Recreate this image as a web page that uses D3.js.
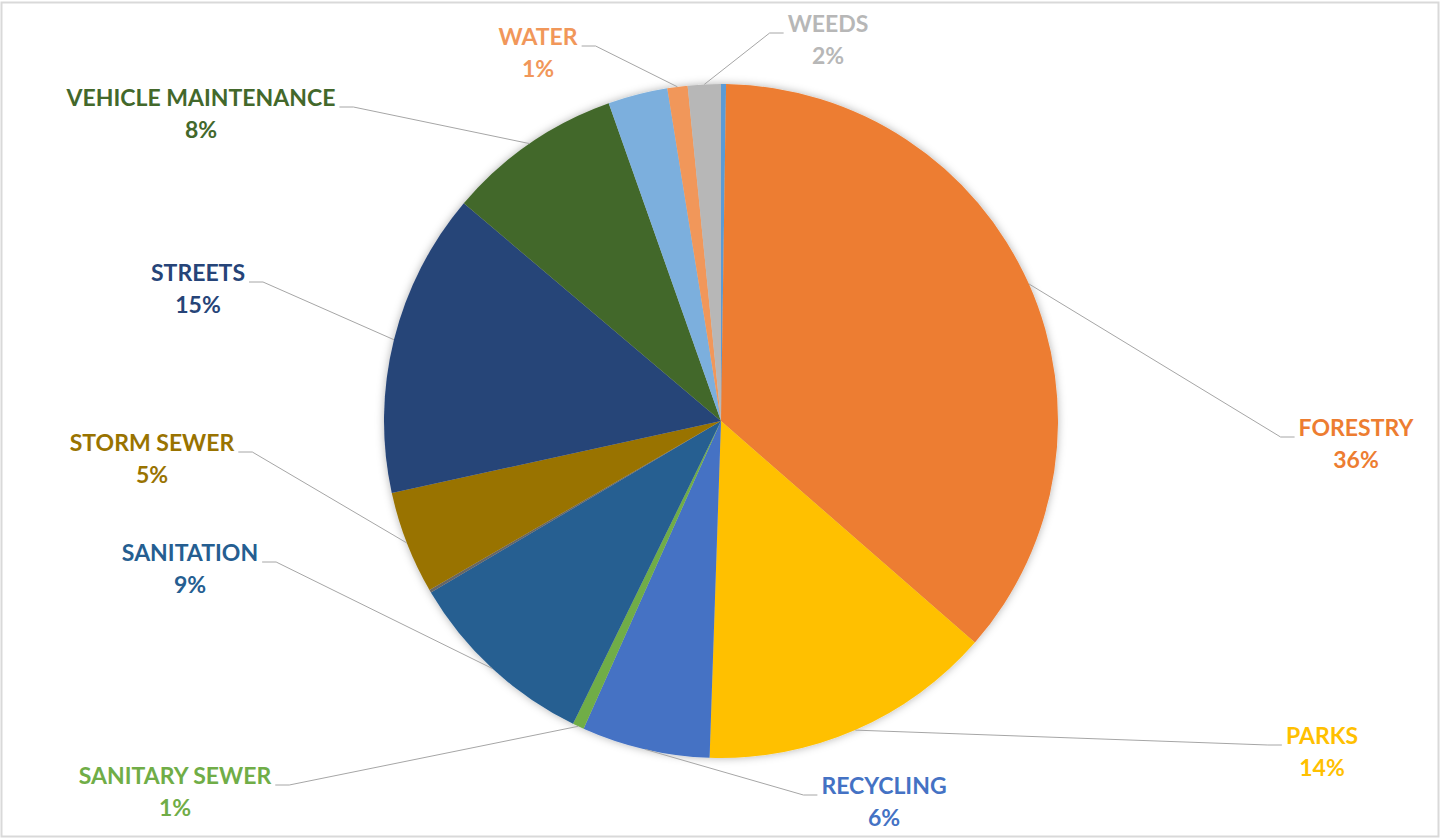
<!DOCTYPE html>
<html>
<head>
<meta charset="utf-8">
<script src="https://cdn.jsdelivr.net/npm/d3@7"></script>
<style>
  html, body { margin: 0; padding: 0; background: #fff; }
  svg { display: block; }
  text { font-family: Lato, "Open Sans", sans-serif; font-weight: 700; }
</style>
</head>
<body>
<svg id="chart" width="1442" height="840"></svg>
<script>
// ---- data (clockwise from 12 o'clock) ----
const categories = ["", "FORESTRY", "PARKS", "RECYCLING", "SANITARY SEWER", "SANITATION", "",
                    "STORM SEWER", "STREETS", "VEHICLE MAINTENANCE", "", "WATER", "WEEDS"];
const values     = [0.24, 36.21, 14.13, 6.15, 0.55, 9.28, 0.13,
                    4.94, 14.62, 8.42, 2.86, 0.97, 1.58];
const colors     = ["#5B9BD5", "#ED7D31", "#FFC000", "#4472C4", "#70AD47", "#255E91", "#666666",
                    "#997300", "#264478", "#43682B", "#7CAFDD", "#F1975A", "#B7B7B7"];

// ---- label layout (position of each data label; style, not data) ----
const labelLayout = {
  "FORESTRY":            { cx: 1356, by: 436, side: "left"  },
  "PARKS":               { cx: 1322, by: 744, side: "left"  },
  "RECYCLING":           { cx: 884,  by: 794, side: "left"  },
  "SANITARY SEWER":      { cx: 175,  by: 784, side: "right" },
  "SANITATION":          { cx: 190,  by: 561, side: "right" },
  "STORM SEWER":         { cx: 152,  by: 451, side: "right" },
  "STREETS":             { cx: 198,  by: 281, side: "right" },
  "VEHICLE MAINTENANCE": { cx: 201,  by: 106, side: "right" },
  "WATER":               { cx: 538,  by: 45,  side: "right" },
  "WEEDS":               { cx: 828,  by: 32,  side: "left"  }
};

const W = 1442, H = 840;
const cx = 721, cy = 421, R = 337;
const fontSize = 23, lineGap = 32;

const svg = d3.select("#chart");

// chart border
svg.append("rect")
  .attr("x", 1.5).attr("y", 2.5).attr("width", 1437).attr("height", 834)
  .attr("fill", "#fff").attr("stroke", "#d9d9d9").attr("stroke-width", 2);

const defs = svg.append("defs");
const f = defs.append("filter").attr("id", "glow")
  .attr("x", "-10%").attr("y", "-10%").attr("width", "120%").attr("height", "120%");
f.append("feDropShadow").attr("dx", 0).attr("dy", 0).attr("stdDeviation", 4)
  .attr("flood-color", "#000").attr("flood-opacity", 0.3);

const data = categories.map((c, i) => ({ name: c, value: values[i], color: colors[i] }));
const total = d3.sum(values);
const pct = d3.format(".0%");

const pie = d3.pie().value(d => d.value).sort(null).startAngle(0).endAngle(2 * Math.PI);
const arcs = pie(data);
const arc = d3.arc().innerRadius(0).outerRadius(R);

const g = svg.append("g").attr("transform", `translate(${cx},${cy})`);
const pieG = g.append("g").attr("filter", "url(#glow)");
pieG.selectAll("path").data(arcs).join("path")
  .attr("d", arc)
  .attr("fill", d => d.data.color);

// labels + leader lines
const labG = svg.append("g");
const lineG = svg.append("g");
arcs.forEach(a => {
  const name = a.data.name;
  if (!name || !labelLayout[name]) return;
  const L = labelLayout[name];
  const t = labG.append("text")
    .attr("x", L.cx).attr("y", L.by)
    .attr("text-anchor", "middle")
    .attr("font-size", fontSize)
    .attr("fill", a.data.color)
    .text(name);
  labG.append("text")
    .attr("x", L.cx).attr("y", L.by + lineGap)
    .attr("text-anchor", "middle")
    .attr("font-size", fontSize)
    .attr("fill", a.data.color)
    .text(pct(a.data.value / total));
  const w = t.node().getComputedTextLength();
  const mid = (a.startAngle + a.endAngle) / 2;
  const sx = cx + R * Math.sin(mid), sy = cy - R * Math.cos(mid);
  const ly = L.by + 1;
  let ex, elx;
  if (L.side === "left") { ex = L.cx - w / 2 - 4; elx = ex - 14; }
  else { ex = L.cx + w / 2 + 4; elx = ex + 14; }
  lineG.append("path")
    .attr("d", d3.line()([[sx, sy], [elx, ly], [ex, ly]]))
    .attr("fill", "none").attr("stroke", "#a6a6a6").attr("stroke-width", 1);
});
</script>
</body>
</html>
